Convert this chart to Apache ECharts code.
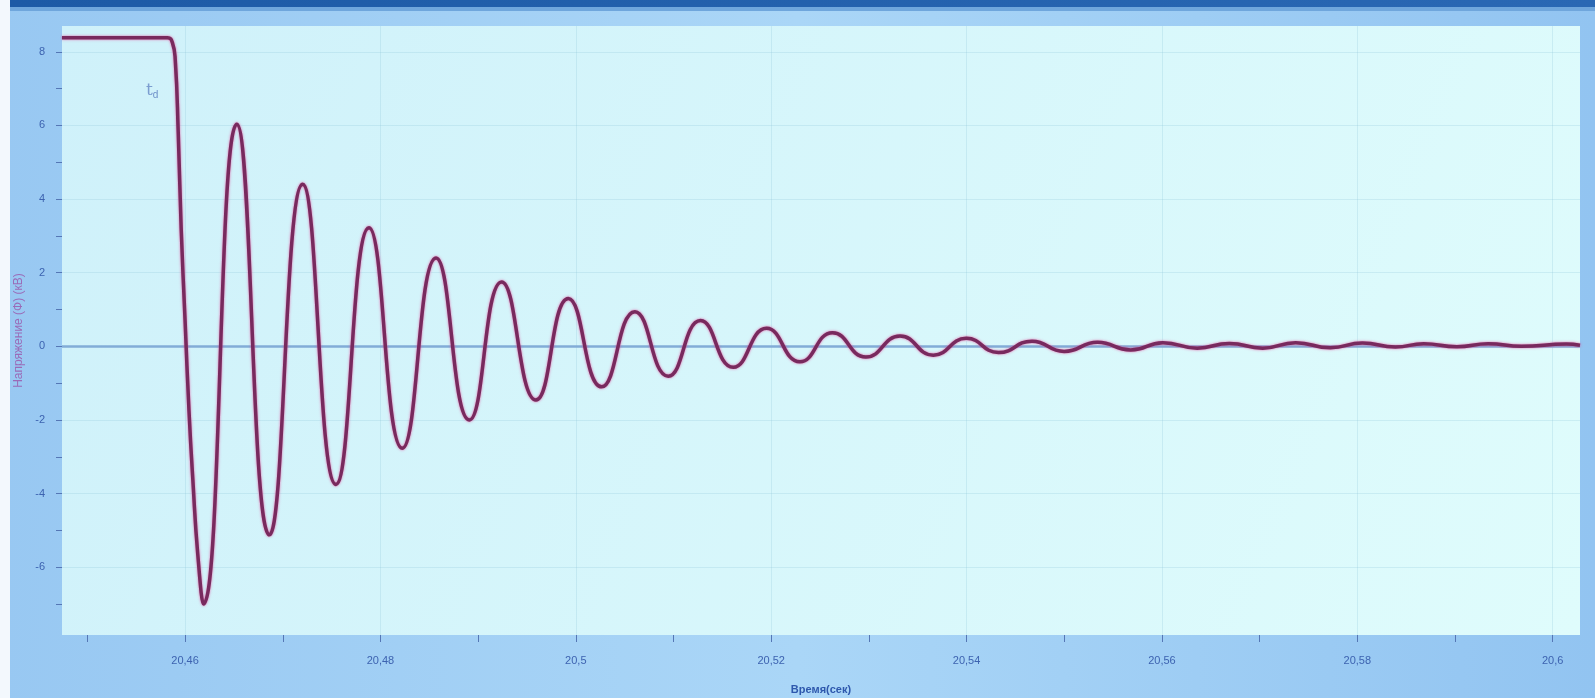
<!DOCTYPE html>
<html>
<head>
<meta charset="utf-8">
<script src="https://cdn.jsdelivr.net/npm/echarts@6/dist/echarts.min.js"></script>
<style>
  html, body { margin: 0; padding: 0; background: #ffffff; }
  #chart { width: 1595px; height: 698px; }
</style>
</head>
<body>
<div id="chart"></div>
<script>
// ---- data ----
const timeValues = [
  20.4474, 20.4582, 20.4587, 20.4590, 20.4593, 20.4596, 20.4600, 20.4604, 20.4608, 20.4613,
  20.46188, 20.46529, 20.46863, 20.47204, 20.47545, 20.47883, 20.48224, 20.48569, 20.48910, 20.49241,
  20.49592, 20.49923, 20.50264, 20.50605, 20.50946, 20.51277, 20.51612, 20.51953, 20.52294, 20.52628,
  20.52969, 20.53319, 20.53660, 20.53998, 20.54327, 20.54670, 20.54999, 20.55341, 20.55680, 20.56010,
  20.56362, 20.56690, 20.57032, 20.57370, 20.57724, 20.58053, 20.58390, 20.58680, 20.59020, 20.59340,
  20.59680, 20.60140, 20.6028
];
const voltageValues = [
  8.38, 8.38, 8.25, 7.75, 5.8, 3.2, 0.7, -1.75, -3.65, -5.65,
  -7.0, 6.03, -5.12, 4.40, -3.75, 3.22, -2.77, 2.40, -2.0, 1.75,
  -1.46, 1.30, -1.10, 0.94, -0.81, 0.70, -0.57, 0.49, -0.42, 0.37,
  -0.29, 0.28, -0.24, 0.22, -0.17, 0.14, -0.14, 0.11, -0.10, 0.10,
  -0.05, 0.08, -0.05, 0.10, -0.04, 0.09, -0.02, 0.07, -0.01, 0.07,
  0.00, 0.06, 0.03
];
const xLabelValues = [20.46, 20.48, 20.5, 20.52, 20.54, 20.56, 20.58, 20.6];
const xTickValues = [20.45, 20.46, 20.47, 20.48, 20.49, 20.5, 20.51, 20.52, 20.53, 20.54,
                     20.55, 20.56, 20.57, 20.58, 20.59, 20.6];
const yLabelValues = [-6, -4, -2, 0, 2, 4, 6, 8];
const yTickValues = [-7, -6, -5, -4, -3, -2, -1, 0, 1, 2, 3, 4, 5, 6, 7, 8];
const xAxisTitle = 'Время(сек)';
const yAxisTitle = 'Напряжение (Ф) (кВ)';
const cursorLabel = 'd';

const seriesData = timeValues.map((t, i) => [t, voltageValues[i]]);

const X_MIN = 20.4474, X_MAX = 20.6028, Y_MIN = -7.84, Y_MAX = 8.70;
const chart = echarts.init(document.getElementById('chart'), null, { renderer: 'canvas' });
const labelColor = '#3d63b0';
const gridLineStyle = { color: 'rgba(140,195,215,0.25)', width: 1 };

chart.setOption({
  animation: false,
  backgroundColor: new echarts.graphic.LinearGradient(0, 0, 1, 0, [
    { offset: 0, color: '#98c8f2' },
    { offset: 0.5, color: '#aad6f7' },
    { offset: 1, color: '#92c4f1' }
  ]),
  graphic: [
    { type: 'rect', z: -10, shape: { x: 0, y: 0, width: 10, height: 698 }, style: { fill: '#f3f8fd' } },
    { type: 'rect', z: -10, shape: { x: 10, y: 0, width: 1585, height: 7 },
      style: { fill: new echarts.graphic.LinearGradient(0, 0, 1, 0, [
        { offset: 0, color: '#1d5aa6' }, { offset: 1, color: '#2a68b4' }]) } },
    { type: 'rect', z: -10, shape: { x: 10, y: 7, width: 1585, height: 4 }, style: { fill: '#6fa6dc' } },
    { type: 'text', z: 10, left: 146, top: 82,
      style: { text: '{a|t}{b|' + cursorLabel + '}',
        rich: { a: { fontSize: 17, fill: '#7b9dd0', fontFamily: 'DejaVu Serif' },
                b: { fontSize: 10, fill: '#6d8fc8', padding: [10, 0, 0, 0] } } } }
  ],
  grid: {
    left: 62, right: 15, top: 26, bottom: 63,
    outerBoundsMode: 'none',
    containLabel: false,
    show: true, borderWidth: 0,
    backgroundColor: new echarts.graphic.LinearGradient(0, 0, 1, 1, [
      { offset: 0, color: '#cff1fa' },
      { offset: 1, color: '#dffcfc' }
    ])
  },
  xAxis: [{
    type: 'value',
    min: X_MIN, max: X_MAX,
    splitNumber: 8,
    position: 'bottom',
    name: xAxisTitle,
    nameLocation: 'middle',
    nameGap: 49,
    nameTextStyle: { color: '#2e58ad', fontSize: 11, fontWeight: 'bold', fontFamily: 'Liberation Sans' },
    axisLine: { show: false, onZero: false },
    axisTick: { show: true, inside: false, length: 7, customValues: xTickValues,
      lineStyle: { color: '#5577b5', width: 1 } },
    axisLabel: { show: true, customValues: xLabelValues, margin: 20,
      color: labelColor, fontSize: 11, fontFamily: 'Liberation Sans',
      formatter: v => String(+(+v).toFixed(2)).replace('.', ',') },
    splitLine: { show: false }
  }, {
    type: 'value',
    min: X_MIN, max: X_MAX,
    position: 'top',
    axisLine: { show: false, onZero: false },
    axisTick: { show: false, customValues: xLabelValues },
    axisLabel: { show: false, customValues: xLabelValues },
    splitLine: { show: true, lineStyle: gridLineStyle }
  }],
  yAxis: [{
    type: 'value',
    min: Y_MIN, max: Y_MAX,
    splitNumber: 8,
    position: 'left',
    name: yAxisTitle,
    nameLocation: 'middle',
    nameRotate: 90,
    nameGap: 36,
    nameTextStyle: { color: '#9a6bb8', fontSize: 12, fontFamily: 'Liberation Sans' },
    axisLine: { show: false, onZero: false },
    axisTick: { show: true, inside: false, length: 6, customValues: yTickValues,
      lineStyle: { color: '#5577b5', width: 1 } },
    axisLabel: { show: true, customValues: yLabelValues, margin: 17,
      color: labelColor, fontSize: 11, fontFamily: 'Liberation Sans' },
    splitLine: { show: false }
  }, {
    type: 'value',
    min: Y_MIN, max: Y_MAX,
    position: 'right',
    axisLine: { show: false, onZero: false },
    axisTick: { show: false, customValues: yLabelValues },
    axisLabel: { show: false, customValues: yLabelValues },
    splitLine: { show: true, lineStyle: gridLineStyle }
  }],
  series: [{
    type: 'line',
    xAxisIndex: 0,
    yAxisIndex: 0,
    data: seriesData,
    smooth: 0.5,
    showSymbol: false,
    z: 3,
    lineStyle: { color: '#782a5e', width: 3.5,
      shadowColor: 'rgba(230,60,145,0.8)', shadowBlur: 2.5 },
    markLine: {
      silent: true,
      z: 1,
      symbol: ['none', 'none'],
      label: { show: false },
      lineStyle: { color: '#82acd7', width: 2.5, type: 'solid' },
      data: [{ yAxis: 0 }]
    }
  }]
});
</script>
</body>
</html>
